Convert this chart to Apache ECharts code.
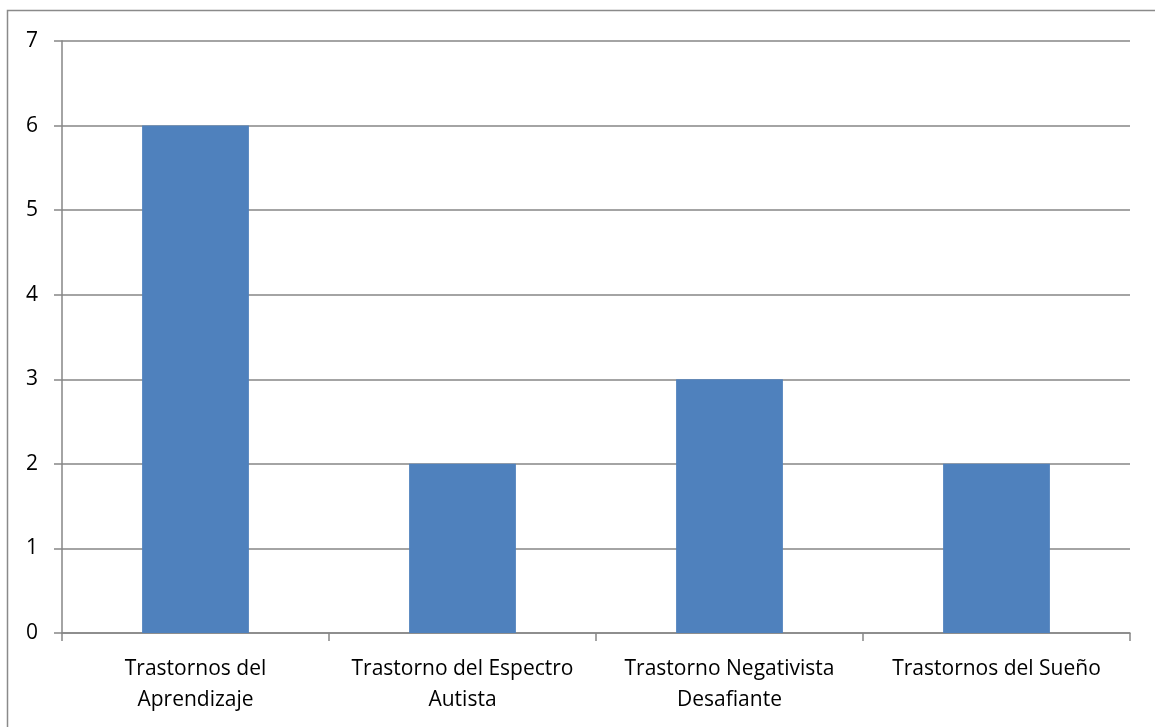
<!DOCTYPE html>
<html>
<head>
<meta charset="utf-8">
<script src="https://cdn.jsdelivr.net/npm/echarts@6/dist/echarts.min.js"></script>
<style>
html,body{margin:0;padding:0;background:#fff;}
#chart{width:1155px;height:727px;}
</style>
</head>
<body>
<div id="chart"></div>
<script>
const categories = ["Trastornos del\nAprendizaje", "Trastorno del Espectro\nAutista", "Trastorno Negativista\nDesafiante", "Trastornos del Sueño"];
const values = [6, 2, 3, 2];
const yTicks = [0, 1, 2, 3, 4, 5, 6, 7];

const chart = echarts.init(document.getElementById('chart'));
const font = '"Open Sans", "Noto Sans", sans-serif';
chart.setOption({
  animation: false,
  backgroundColor: '#fff',
  graphic: [{
    type: 'polyline',
    shape: { points: [[7.5, 740], [7.5, 10.5], [1160, 10.5]] },
    style: { stroke: '#8a8a8a', lineWidth: 1.5, fill: null }
  }],
  grid: { left: 62, right: 25, top: 41, bottom: 94, containLabel: false },
  xAxis: {
    type: 'category',
    data: categories,
    axisLine: { lineStyle: { color: '#868686', width: 1.5 } },
    axisTick: { show: true, length: 8, alignWithLabel: false, lineStyle: { color: '#868686', width: 1.5 } },
    axisLabel: { color: '#000', fontFamily: font, fontSize: 21, lineHeight: 31, margin: 21, interval: 0 }
  },
  yAxis: {
    type: 'value',
    min: yTicks[0],
    max: yTicks[yTicks.length - 1],
    interval: 1,
    axisLine: { show: true, lineStyle: { color: '#868686', width: 1.5 } },
    axisTick: { show: true, length: 8, lineStyle: { color: '#868686', width: 1.5 } },
    splitLine: { lineStyle: { color: '#868686', width: 1.5 } },
    axisLabel: { color: '#000', fontFamily: font, fontSize: 21, margin: 24 }
  },
  series: [{
    type: 'bar',
    data: values,
    barWidth: '40%',
    itemStyle: { color: '#4F81BD' }
  }]
});
</script>
</body>
</html>
